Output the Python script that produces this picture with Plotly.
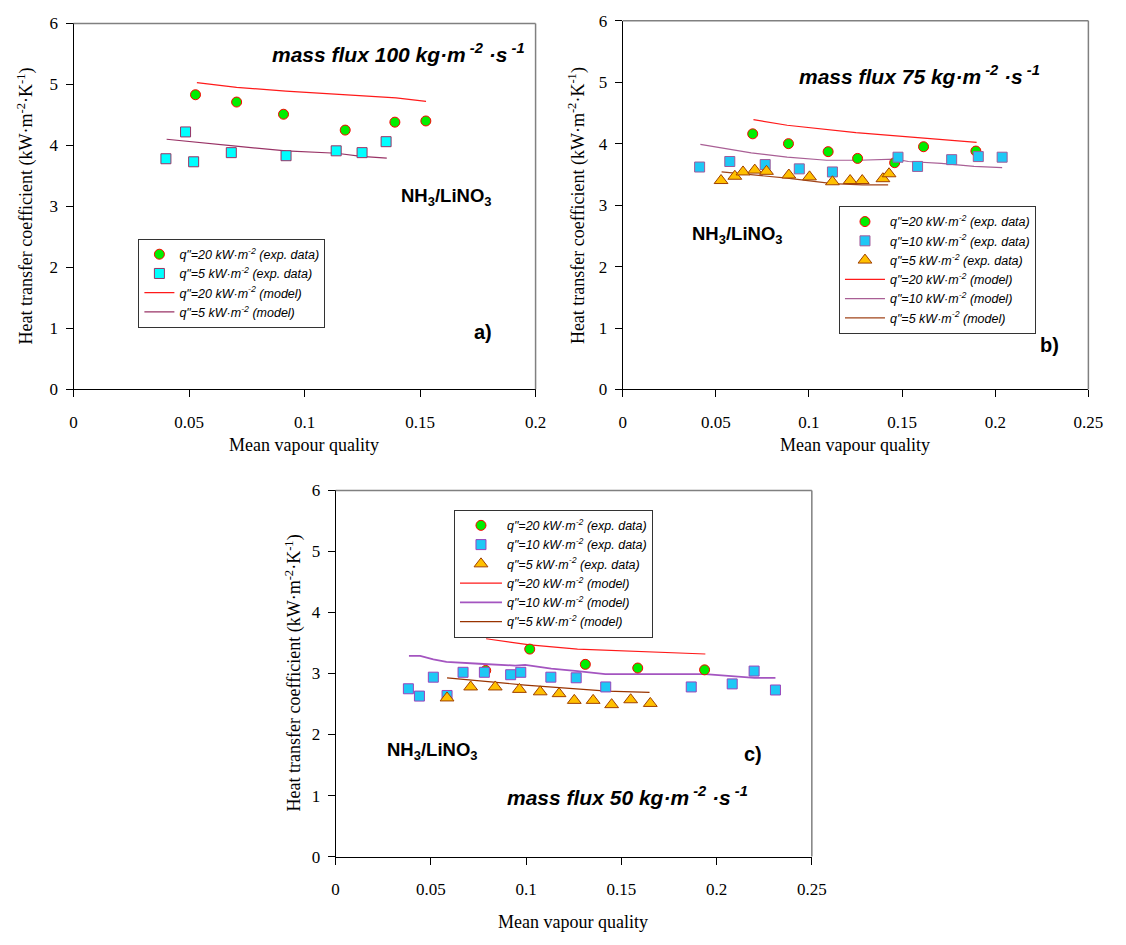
import plotly.graph_objects as go

# ---------------- data ----------------
# Panel a) mass flux 100
a_x20 = [0.0528, 0.0706, 0.0909, 0.1176, 0.1391, 0.1525]
a_y20 = [4.83, 4.71, 4.51, 4.25, 4.38, 4.40]
a_x5 = [0.0400, 0.0485, 0.0520, 0.0683, 0.0920, 0.1137, 0.1249, 0.1353]
a_y5 = [3.78, 4.22, 3.73, 3.88, 3.83, 3.91, 3.88, 4.06]
a_mx20 = [0.0534, 0.0706, 0.0919, 0.1396, 0.1526]
a_my20 = [5.03, 4.95, 4.89, 4.78, 4.72]
a_mx5 = [0.0403, 0.0522, 0.0692, 0.0919, 0.1139, 0.1245, 0.1356]
a_my5 = [4.10, 4.05, 3.99, 3.91, 3.87, 3.82, 3.79]

# Panel b) mass flux 75
b_x20 = [0.0698, 0.0890, 0.1103, 0.1261, 0.1460, 0.1615, 0.1896]
b_y20 = [4.16, 4.00, 3.87, 3.76, 3.69, 3.95, 3.88]
b_x10 = [0.0413, 0.0575, 0.0765, 0.0948, 0.1126, 0.1478, 0.1583, 0.1766, 0.1909, 0.2037]
b_y10 = [3.62, 3.71, 3.66, 3.59, 3.54, 3.78, 3.63, 3.74, 3.79, 3.78]
b_x5 = [0.0528, 0.0602, 0.0646, 0.0709, 0.0772, 0.0892, 0.1003, 0.1126, 0.1221, 0.1286, 0.1397, 0.1430]
b_y5 = [3.40, 3.47, 3.54, 3.57, 3.55, 3.49, 3.46, 3.38, 3.40, 3.40, 3.43, 3.51]
b_mx20 = [0.0702, 0.0883, 0.1252, 0.1464, 0.1900]
b_my20 = [4.39, 4.30, 4.18, 4.13, 4.02]
b_mx10 = [0.0417, 0.0690, 0.0883, 0.1094, 0.1270, 0.1464, 0.1534, 0.1710, 0.1886, 0.2037]
b_my10 = [3.99, 3.85, 3.78, 3.73, 3.73, 3.75, 3.71, 3.68, 3.63, 3.61]
b_mx5 = [0.0531, 0.0707, 0.0883, 0.1126, 0.1288, 0.1425]
b_my5 = [3.54, 3.49, 3.44, 3.35, 3.33, 3.33]

# Panel c) mass flux 50
c_x20 = [0.0788, 0.1019, 0.1311, 0.1586, 0.1937]
c_y20 = [3.05, 3.40, 3.15, 3.09, 3.06]
c_x10 = [0.0382, 0.0440, 0.0513, 0.0585, 0.0669, 0.0781, 0.0919, 0.0972, 0.1130, 0.1263,
         0.1418, 0.1867, 0.2082, 0.2197, 0.2309]
c_y10 = [2.75, 2.63, 2.94, 2.64, 3.02, 3.02, 2.98, 3.02, 2.94, 2.93, 2.78, 2.78, 2.83, 3.04, 2.73]
c_x5 = [0.0585, 0.0709, 0.0838, 0.0965, 0.1074, 0.1173, 0.1253, 0.1352, 0.1449, 0.1549, 0.1652]
c_y5 = [2.60, 2.78, 2.78, 2.74, 2.70, 2.67, 2.56, 2.56, 2.49, 2.57, 2.51]
c_mx20 = [0.0790, 0.1019, 0.1270, 0.1579, 0.1941]
c_my20 = [3.57, 3.47, 3.40, 3.36, 3.32]
c_mx10 = [0.0385, 0.0444, 0.0513, 0.0582, 0.0754, 0.0943, 0.0995, 0.1132, 0.1270, 0.1416,
          0.1941, 0.2199, 0.2309]
c_my10 = [3.29, 3.29, 3.23, 3.19, 3.16, 3.13, 3.14, 3.08, 3.04, 2.99, 2.99, 2.93, 2.93]
c_mx5 = [0.0585, 0.0995, 0.1425, 0.1648]
c_my5 = [2.93, 2.81, 2.71, 2.69]

x_ticks_a = [0, 0.05, 0.1, 0.15, 0.2]
x_ticks_bc = [0, 0.05, 0.1, 0.15, 0.2, 0.25]
y_ticks = [0, 1, 2, 3, 4, 5, 6]

lbl20 = "<i>q\"=20 kW·m<sup>-2</sup> (exp. data)</i>"
lbl10 = "<i>q\"=10 kW·m<sup>-2</sup> (exp. data)</i>"
lbl5 = "<i>q\"=5 kW·m<sup>-2</sup> (exp. data)</i>"
lblm20 = "<i>q\"=20 kW·m<sup>-2</sup> (model)</i>"
lblm10 = "<i>q\"=10 kW·m<sup>-2</sup> (model)</i>"
lblm5 = "<i>q\"=5 kW·m<sup>-2</sup> (model)</i>"

W, H = 1126, 945


def P(px, py):
    return px / W, 1 - py / H


fig = go.Figure()


def line(x, y, name, color, ax, lg, rank, width=1.2):
    fig.add_trace(go.Scatter(x=x, y=y, mode="lines", name=name, line=dict(color=color, width=width),
                             xaxis=ax[0], yaxis=ax[1], legend=lg, legendrank=rank))


def pts(x, y, name, symbol, size, fill, edge, ax, lg, rank):
    fig.add_trace(go.Scatter(x=x, y=y, mode="markers", name=name,
                             marker=dict(symbol=symbol, size=size, color=fill, line=dict(color=edge, width=1)),
                             xaxis=ax[0], yaxis=ax[1], legend=lg, legendrank=rank))


RED = "#ff1a1a"
GREEN = "#00ee00"
# panel a
A = ("x", "y")
line(a_mx20, a_my20, lblm20, RED, A, "legend", 4)
line(a_mx5, a_my5, lblm5, "#993366", A, "legend", 5)
pts(a_x20, a_y20, lbl20, "circle", 10, GREEN, "#ff0000", A, "legend", 1)
pts(a_x5, a_y5, lbl5, "square", 10, "#00ffff", "#993366", A, "legend", 2)

# panel b
B = ("x2", "y2")
line(b_mx20, b_my20, lblm20, RED, B, "legend2", 4)
line(b_mx10, b_my10, lblm10, "#a95f95", B, "legend2", 5)
line(b_mx5, b_my5, lblm5, "#a0441a", B, "legend2", 6)
pts(b_x20, b_y20, lbl20, "circle", 10, GREEN, "#ff0000", B, "legend2", 1)
pts(b_x10, b_y10, lbl10, "square", 10, "#1ec8f5", "#a05a9a", B, "legend2", 2)
pts(b_x5, b_y5, lbl5, "triangle-up", 12, "#ffc000", "#a04000", B, "legend2", 3)

# panel c
C = ("x3", "y3")
line(c_mx20, c_my20, lblm20, RED, C, "legend3", 4)
line(c_mx10, c_my10, lblm10, "#a455c0", C, "legend3", 5, width=1.8)
line(c_mx5, c_my5, lblm5, "#993300", C, "legend3", 6)
pts(c_x20, c_y20, lbl20, "circle", 10, GREEN, "#ff0000", C, "legend3", 1)
pts(c_x10, c_y10, lbl10, "square", 10, "#1ec8f5", "#9944bb", C, "legend3", 2)
pts(c_x5, c_y5, lbl5, "triangle-up", 12, "#ffc000", "#a04000", C, "legend3", 3)

tickfont = dict(family="Liberation Serif", size=17, color="black")


def xax(dom, ticks, anchor):
    return dict(domain=dom, range=[ticks[0], ticks[-1]], tickvals=ticks, anchor=anchor,
                ticktext=[("%g" % t) for t in ticks], showline=True, linecolor="black", linewidth=1,
                ticks="outside", ticklen=7, tickcolor="black", showgrid=False, zeroline=False,
                tickfont=tickfont, ticklabelstandoff=10)


def yax(dom, xname):
    return dict(domain=dom, range=[0, 6], tickvals=y_ticks, ticktext=[str(t) for t in y_ticks],
                showline=True, linecolor="black", linewidth=1, ticks="outside", ticklen=7,
                tickcolor="black", showgrid=False, zeroline=False, tickfont=tickfont,
                ticklabelstandoff=4, anchor=xname)


legstyle = dict(bgcolor="white", bordercolor="#333333", borderwidth=1,
                font=dict(family="Liberation Sans", size=12.5, color="black"),
                xanchor="left", yanchor="top", tracegroupgap=0)

fig.update_layout(
    width=W, height=H, autosize=False,
    margin=dict(l=0, r=0, t=0, b=0),
    paper_bgcolor="white", plot_bgcolor="white",
    xaxis=xax([70.7 / W, 540.7 / W], x_ticks_a, "y"),
    yaxis=yax([1 - 388 / H, 1 - 14.7 / H], "x"),
    xaxis2=xax([629.3 / W, 1103 / W], x_ticks_bc, "y2"),
    yaxis2=yax([1 - 388.3 / H, 1 - 12 / H], "x2"),
    xaxis3=xax([337.3 / W, 821.7 / W], x_ticks_bc, "y3"),
    yaxis3=yax([1 - 865 / H, 1 - 491.3 / H], "x3"),
    legend=legstyle | dict(x=P(136.7, 234.3)[0], y=P(136.7, 234.3)[1], itemwidth=30),
    legend2=legstyle | dict(x=P(849.3, 201)[0], y=P(849.3, 201)[1], itemwidth=40),
    legend3=legstyle | dict(x=P(457.7, 511)[0], y=P(457.7, 511)[1], itemwidth=42),
)

# grey top/right frame
shapes = []
for xr, yr in [("x", "y"), ("x2", "y2"), ("x3", "y3")]:
    shapes.append(dict(type="line", xref=xr + " domain", yref=yr + " domain", x0=0, x1=1, y0=1, y1=1,
                       line=dict(color="#808080", width=1.5)))
    shapes.append(dict(type="line", xref=xr + " domain", yref=yr + " domain", x0=1, x1=1, y0=0, y1=1,
                       line=dict(color="#808080", width=1.5)))
fig.update_layout(shapes=shapes)

ann = []


def text(px, py, s, size, family="Liberation Sans", angle=0, xanchor="center"):
    x, y = P(px, py)
    ann.append(dict(x=x, y=y, xref="paper", yref="paper", text=s, showarrow=False, textangle=angle,
                    xanchor=xanchor, yanchor="middle", font=dict(family=family, size=size, color="black")))


mf = "<b><i>mass flux %s kg·m<sup> -2</sup> ·s<sup> -1</sup></i></b>"
nh = "<b>NH<sub>3</sub>/LiNO<sub>3</sub></b>"
ytitle = "Heat transfer coefficient (kW·m<sup>-2</sup>·K<sup>-1</sup>)"

# panel a
text(401, 45, mf % "100", 21)
text(450, 192, nh, 18.5)
text(487, 330, "<b>a)</b>", 20)
text(305, 445, "Mean vapour quality", 18, "Liberation Serif")
text(22, 201, ytitle, 18, "Liberation Serif", -90)
# panel b
text(931, 67, mf % "75", 21)
text(746, 231, nh, 18.5)
text(1063, 343, "<b>b)</b>", 20)
text(866, 445, "Mean vapour quality", 18, "Liberation Serif")
text(583, 201, ytitle, 18, "Liberation Serif", -90)
# panel c
text(634, 803, mf % "50", 21)
text(435, 757, nh, 18.5)
text(762, 760, "<b>c)</b>", 20)
text(579, 932, "Mean vapour quality", 18, "Liberation Serif")
text(295, 678, ytitle, 18, "Liberation Serif", -90)

fig.update_layout(annotations=ann)
fig.write_html("out.html")
